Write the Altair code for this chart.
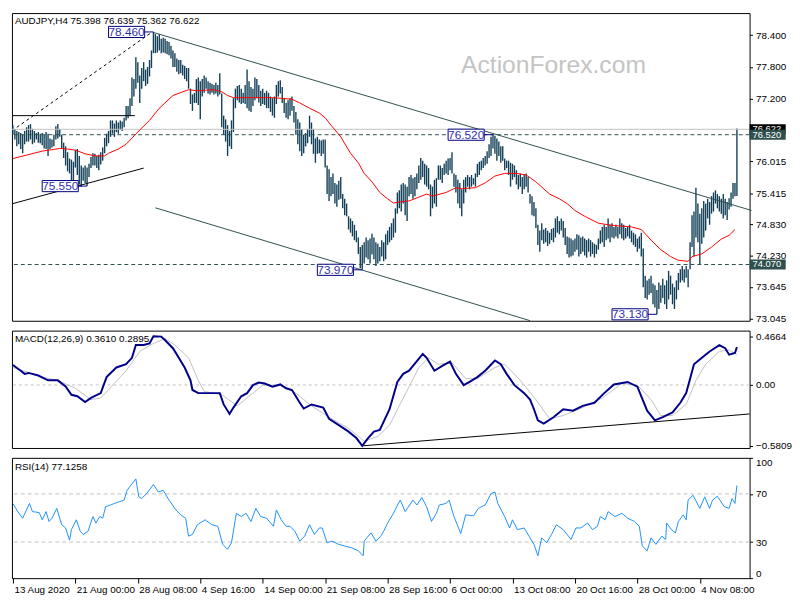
import altair as alt
import pandas as pd

# ---------------- data ----------------
highs = [
    76.70, 76.63, 76.59, 76.57, 76.55, 76.52, 76.59, 76.66, 76.70, 76.72,
    76.63, 76.59, 76.55, 76.57, 76.54, 76.55, 76.52, 76.57, 76.54, 76.45,
    76.43, 76.52, 76.68, 76.72, 76.63, 76.52, 76.37, 76.30, 76.19, 76.07,
    76.05, 76.01, 76.23, 76.25, 76.12, 75.94, 75.90, 75.94, 75.90, 75.97,
    76.10, 76.17, 76.16, 76.12, 76.14, 76.19, 76.28, 76.46, 76.54, 76.59,
    76.79, 76.79, 76.73, 76.79, 76.75, 76.79, 76.77, 76.84, 77.06, 77.06,
    77.21, 77.60, 77.57, 77.98, 77.89, 77.64, 77.78, 77.89, 77.75, 77.80,
    77.93, 78.11, 78.46, 78.42, 78.38, 78.42, 78.33, 78.35, 78.33, 78.29,
    78.27, 78.20, 78.11, 78.06, 77.96, 77.93, 77.93, 77.84, 77.82, 77.78,
    77.78, 77.39, 77.28, 77.31, 77.57, 77.60, 77.53, 77.57, 77.64, 77.60,
    77.53, 77.50, 77.48, 77.46, 77.50, 77.46, 77.68, 77.30, 76.88, 76.81,
    76.70, 76.59, 76.79, 77.21, 77.39, 77.44, 77.46, 77.39, 77.31, 77.46,
    77.75, 77.53, 77.42, 77.39, 77.60, 77.57, 77.46, 77.35, 77.39, 77.31,
    77.35, 77.31, 77.24, 77.21, 77.24, 77.46, 77.53, 77.55, 77.42, 77.21,
    77.12, 77.17, 77.21, 77.24, 77.06, 76.95, 76.81, 76.75, 76.63, 76.52,
    76.55, 76.63, 76.88, 76.75, 76.63, 76.45, 76.48, 76.43, 76.41, 76.43,
    76.43, 75.94, 75.87, 75.72, 75.79, 75.61, 75.58, 75.65, 75.72, 75.40,
    75.31, 75.22, 74.98, 74.94, 74.89, 74.82, 74.71, 74.58, 74.40, 74.44,
    74.49, 74.58, 74.53, 74.56, 74.65, 74.58, 74.49, 74.46, 74.40, 74.53,
    74.49, 74.64, 74.71, 74.78, 74.85, 74.94, 75.13, 75.43, 75.47, 75.58,
    75.61, 75.58, 75.54, 75.72, 75.76, 75.70, 75.72, 75.79, 75.94, 76.08,
    76.03, 75.97, 75.94, 75.89, 75.58, 75.54, 75.67, 75.70, 75.94, 75.94,
    75.89, 75.97, 76.03, 76.07, 76.08, 76.19, 75.79, 75.76, 75.67, 75.61,
    75.49, 75.67, 75.72, 75.76, 75.72, 75.76, 75.70, 75.79, 75.97, 76.01,
    76.03, 76.08, 76.12, 76.21, 76.34, 76.48, 76.52, 76.50, 76.45, 76.39,
    76.30, 76.30, 76.07, 76.03, 76.03, 75.99, 75.97, 75.94, 75.85, 75.76,
    75.79, 75.72, 75.76, 75.79, 75.72, 75.40, 75.36, 75.25, 75.13, 74.82,
    74.71, 74.85, 74.73, 74.76, 74.71, 74.67, 74.74, 74.76, 74.94, 74.98,
    74.89, 74.94, 74.89, 74.76, 74.60, 74.58, 74.56, 74.53, 74.56, 74.64,
    74.62, 74.58, 74.60, 74.56, 74.53, 74.56, 74.53, 74.49, 74.46, 74.44,
    74.56, 74.71, 74.78, 74.82, 74.78, 74.94, 74.82, 74.85, 74.78, 74.82,
    74.78, 74.94, 74.85, 74.82, 74.76, 74.78, 74.82, 74.71, 74.67, 74.64,
    74.56, 74.60, 74.67, 74.37, 73.86, 73.77, 73.80, 73.86, 73.71, 73.68,
    73.59, 73.73, 73.68, 73.80, 73.68, 73.77, 73.95, 73.86, 73.71, 73.64,
    73.77, 73.91, 73.98, 74.04, 73.98, 74.04, 73.98, 74.49, 75.00, 75.07,
    75.52, 75.22, 75.03, 75.13, 75.27, 75.22, 75.31, 75.25, 75.36, 75.43,
    75.47, 75.40, 75.36, 75.31, 75.40, 75.31, 75.25, 75.32, 75.43, 75.61,
    75.61, 76.639,
]
lows = [
    76.52, 76.43, 76.30, 76.34, 76.25, 76.17, 76.34, 76.39, 76.39, 76.43,
    76.34, 76.37, 76.43, 76.37, 76.36, 76.32, 76.26, 76.25, 76.12, 76.25,
    76.28, 76.30, 76.43, 76.45, 76.48, 76.26, 76.08, 75.94, 75.83, 75.79,
    75.65, 75.52, 75.90, 75.76, 75.58, 75.54, 75.65, 75.61, 75.55, 75.72,
    75.89, 75.94, 75.94, 75.89, 75.85, 75.96, 76.03, 76.17, 76.30, 76.36,
    76.48, 76.54, 76.48, 76.57, 76.54, 76.61, 76.59, 76.66, 76.79, 76.83,
    76.88, 77.06, 77.24, 77.39, 77.50, 77.12, 77.39, 77.53, 77.44, 77.48,
    77.62, 77.78, 78.06, 78.06, 78.07, 78.11, 78.06, 78.07, 78.06, 78.04,
    78.02, 77.96, 77.80, 77.80, 77.71, 77.66, 77.68, 77.64, 77.57, 77.53,
    77.39, 77.10, 76.97, 77.12, 77.12, 77.08, 76.81, 77.24, 77.31, 77.39,
    77.30, 77.28, 77.31, 77.28, 77.30, 77.24, 77.28, 76.66, 76.52, 76.39,
    76.12, 76.30, 76.25, 76.57, 77.02, 77.17, 77.13, 77.10, 77.12, 77.10,
    77.02, 76.97, 76.95, 77.06, 77.17, 77.21, 77.13, 77.06, 77.10, 77.08,
    77.02, 77.02, 76.95, 76.88, 76.84, 77.10, 77.24, 77.30, 77.12, 76.93,
    76.84, 76.81, 76.88, 76.97, 76.75, 76.52, 76.34, 76.21, 76.12, 76.17,
    76.30, 76.36, 76.48, 76.34, 76.16, 75.99, 76.16, 76.17, 76.12, 76.16,
    75.90, 75.40, 75.27, 75.36, 75.40, 75.22, 75.16, 75.29, 75.31, 75.13,
    75.00, 74.98, 74.73, 74.67, 74.60, 74.53, 74.49, 74.27, 74.00, 73.97,
    74.09, 74.20, 74.17, 74.09, 74.26, 74.17, 74.04, 74.09, 74.13, 74.22,
    74.13, 74.17, 74.44, 74.49, 74.53, 74.58, 74.67, 75.03, 75.13, 75.07,
    75.22, 75.00, 74.89, 75.36, 75.40, 75.31, 75.36, 75.49, 75.61, 75.67,
    75.72, 75.58, 75.54, 75.49, 74.98, 75.13, 75.22, 75.16, 75.67, 75.67,
    75.61, 75.76, 75.79, 75.76, 75.85, 75.79, 75.54, 75.43, 75.22, 75.13,
    74.98, 75.22, 75.43, 75.54, 75.49, 75.54, 75.58, 75.54, 75.72, 75.76,
    75.85, 75.89, 75.94, 75.97, 76.08, 76.12, 76.26, 76.16, 76.03, 76.12,
    75.99, 76.03, 75.85, 75.89, 75.76, 75.54, 75.67, 75.72, 75.58, 75.49,
    75.54, 75.40, 75.49, 75.54, 75.43, 75.22, 75.00, 74.98, 74.76, 74.44,
    74.31, 74.53, 74.46, 74.49, 74.42, 74.46, 74.53, 74.49, 74.58, 74.67,
    74.64, 74.71, 74.58, 74.44, 74.27, 74.20, 74.22, 74.24, 74.31, 74.35,
    74.22, 74.27, 74.31, 74.24, 74.20, 74.31, 74.22, 74.27, 74.20, 74.27,
    74.35, 74.46, 74.49, 74.40, 74.53, 74.56, 74.49, 74.58, 74.56, 74.60,
    74.56, 74.64, 74.56, 74.53, 74.56, 74.60, 74.56, 74.49, 74.44, 74.40,
    74.31, 74.37, 74.22, 73.64, 73.44, 73.41, 73.50, 73.53, 73.32, 73.26,
    73.13, 73.23, 73.35, 73.44, 73.32, 73.23, 73.41, 73.50, 73.32, 73.23,
    73.41, 73.59, 73.73, 73.77, 73.73, 73.82, 73.64, 73.98, 74.40, 74.22,
    74.58, 74.49, 74.08, 74.46, 74.58, 74.71, 74.94, 74.82, 75.03, 75.07,
    75.22, 75.13, 75.07, 75.03, 74.94, 75.00, 74.91, 75.11, 75.16, 75.31,
    75.36, 75.362,
]

# moving average (red), (bar index, price)
ma_line = [
    (0, 76.07), (15, 76.21), (24, 76.26), (28, 76.25), (32, 76.23), (37, 76.16),
    (42, 76.12), (47, 76.12), (49, 76.17), (54, 76.25), (58, 76.34), (65, 76.61),
    (70, 76.79), (75, 77.02), (82, 77.26), (90, 77.37), (94, 77.35), (103, 77.37),
    (107, 77.33), (110, 77.26), (113, 77.22), (123, 77.22), (133, 77.22),
    (143, 77.19), (147, 77.12), (152, 77.02), (157, 76.93), (160, 76.84),
    (163, 76.70), (168, 76.48), (173, 76.17), (177, 75.99), (180, 75.79),
    (184, 75.63), (188, 75.43), (192, 75.31), (195, 75.23), (198, 75.25),
    (203, 75.27), (208, 75.34), (212, 75.40), (215, 75.36), (222, 75.43),
    (227, 75.52), (230, 75.50), (237, 75.52), (242, 75.61), (247, 75.74),
    (252, 75.79), (258, 75.79), (263, 75.76), (268, 75.63), (275, 75.40),
    (280, 75.31), (284, 75.22), (288, 75.09), (293, 74.98), (300, 74.85),
    (305, 74.82), (310, 74.80), (317, 74.78), (322, 74.73), (327, 74.53),
    (332, 74.35), (337, 74.22), (341, 74.15), (346, 74.13), (348, 74.22),
    (353, 74.27), (358, 74.40), (363, 74.55), (367, 74.62), (370, 74.73),
]

macd_main = [
    (0, 0.191), (4, 0.136), (6, 0.106), (8, 0.115), (13, 0.090), (18, 0.044),
    (23, 0.044), (27, -0.014), (30, -0.094), (33, -0.108), (37, -0.164),
    (40, -0.124), (45, -0.078), (48, 0.075), (53, 0.167), (58, 0.198),
    (61, 0.259), (63, 0.381), (67, 0.381), (70, 0.397), (72, 0.466), (76, 0.462),
    (78, 0.427), (82, 0.351), (85, 0.259), (88, 0.167), (91, 0.044), (92, -0.048),
    (95, -0.078), (98, -0.078), (106, -0.078), (108, -0.186), (111, -0.277),
    (113, -0.216), (117, -0.108), (120, -0.078), (123, -0.002), (126, 0.023),
    (129, 0.014), (133, -0.017), (137, 0.005), (140, -0.032), (143, -0.048),
    (147, -0.170), (149, -0.225), (153, -0.186), (159, -0.216), (162, -0.323),
    (167, -0.384), (172, -0.446), (176, -0.507), (179, -0.581), (182, -0.507),
    (185, -0.446), (188, -0.430), (193, -0.232), (197, 0.029), (200, 0.106),
    (203, 0.136), (207, 0.228), (210, 0.296), (212, 0.259), (216, 0.136),
    (220, 0.182), (224, 0.222), (227, 0.106), (231, -0.002), (234, 0.029),
    (238, 0.075), (242, 0.136), (247, 0.234), (250, 0.198), (253, 0.106),
    (257, -0.002), (262, -0.078), (265, -0.140), (267, -0.232), (269, -0.338),
    (272, -0.369), (277, -0.308), (282, -0.232), (287, -0.246), (292, -0.200),
    (298, -0.170), (303, -0.078), (308, 0.005), (315, 0.029), (320, -0.017),
    (322, -0.108), (325, -0.246), (329, -0.338), (333, -0.308), (338, -0.262),
    (342, -0.170), (345, -0.078), (347, 0.060), (349, 0.198), (354, 0.274),
    (357, 0.320), (362, 0.381), (365, 0.351), (367, 0.289), (370, 0.305),
    (371, 0.361),
]
macd_signal = [
    (0, 0.167), (15, 0.075), (23, 0.044), (32, -0.032), (40, -0.140), (45, -0.124),
    (52, 0.014), (58, 0.136), (65, 0.320), (72, 0.397), (78, 0.443), (83, 0.381),
    (90, 0.259), (95, 0.044), (98, -0.062), (107, -0.094), (115, -0.200),
    (122, -0.094), (128, -0.002), (137, -0.002), (145, -0.078), (153, -0.200),
    (162, -0.308), (172, -0.415), (180, -0.537), (187, -0.492), (193, -0.384),
    (198, -0.198), (203, -0.017), (208, 0.167), (213, 0.259), (218, 0.198),
    (225, 0.213), (232, 0.060), (238, 0.060), (247, 0.167), (252, 0.198),
    (260, 0.044), (268, -0.140), (275, -0.323), (282, -0.292), (292, -0.216),
    (302, -0.124), (312, 0.014), (320, -0.002), (327, -0.140), (332, -0.292),
    (338, -0.292), (345, -0.186), (350, 0.044), (355, 0.198), (362, 0.320),
    (367, 0.335), (371, 0.2895),
]

rsi_line = [
    (0, 62.1), (2.5, 55.3), (5, 49.8), (8.5, 62.1), (10, 55.3), (13.5, 54.5),
    (15, 48.5), (17, 55.3), (18.5, 47.1), (20, 49.8), (22.5, 58.0), (25, 44.4),
    (27, 41.7), (29, 31.6), (30, 40.3), (32.5, 48.5), (34.5, 39.0), (36, 36.3),
    (38.5, 39.0), (41, 51.2), (42.5, 45.8), (44.5, 51.2), (46, 49.8), (47.5, 59.4),
    (50, 60.8), (52, 62.1), (54.5, 63.5), (57, 64.9), (58.5, 73.0), (61, 78.4),
    (63, 82.5), (64.5, 67.6), (66, 66.2), (68.5, 70.3), (72, 77.9), (74.5, 71.6),
    (77, 73.0), (80, 64.9), (83.5, 56.7), (86, 52.6), (88.5, 49.8), (90, 34.9),
    (92, 36.3), (94.5, 44.4), (98.5, 48.5), (102, 44.4), (105, 43.1), (107.5, 28.1),
    (110, 24.0), (112, 29.4), (114.5, 53.9), (117, 51.2), (119.5, 53.9), (122, 47.1),
    (124.5, 58.0), (127, 51.2), (130, 49.8), (133.5, 43.1), (135, 56.7),
    (137.5, 48.5), (140, 43.1), (142, 43.1), (144.5, 39.0), (147, 30.8),
    (149.5, 34.9), (152, 44.4), (154.5, 36.3), (157, 41.7), (158.5, 41.7),
    (161, 29.4), (163.5, 30.8), (167, 28.1), (170, 26.7), (173.5, 25.3),
    (177, 22.7), (179.5, 18.6), (180, 30.8), (183.5, 37.6), (186, 30.8),
    (188.5, 34.9), (190, 39.0), (192, 45.8), (195, 53.9), (197.5, 62.1),
    (198.5, 64.9), (201, 55.3), (205, 64.9), (207, 60.8), (209.5, 67.0),
    (212, 59.4), (214.5, 47.1), (217, 53.9), (218.5, 60.8), (222, 62.1),
    (223.5, 64.9), (226, 51.2), (229.5, 37.1), (232, 52.6), (236, 51.8),
    (238.5, 58.0), (242, 60.8), (245, 70.3), (247, 71.6), (248.5, 62.1),
    (252, 51.2), (254.5, 41.7), (256, 48.5), (258.5, 40.3), (262, 41.7),
    (264.5, 34.9), (267, 28.1), (269, 18.6), (271, 33.5), (273.5, 29.4),
    (276, 36.3), (278.5, 44.4), (282, 40.3), (286, 32.2), (288.5, 41.7),
    (291, 41.7), (294.5, 45.8), (297, 40.3), (299.5, 43.1), (301, 51.2),
    (303.5, 48.5), (305, 55.3), (308.5, 51.2), (312, 53.9), (315, 49.8),
    (318.5, 47.1), (321, 43.1), (322.5, 26.7), (325, 22.7), (327, 33.5),
    (329.5, 28.1), (332.5, 34.9), (334.5, 32.2), (335, 45.8), (337.5, 40.3),
    (339.5, 37.6), (341, 47.1), (343.5, 52.6), (345, 48.5), (346, 64.9),
    (348.5, 68.9), (352, 58.0), (354.5, 67.6), (357, 58.0), (358.5, 64.9),
    (361, 68.1), (364.5, 59.4), (367, 58.0), (368.5, 66.2), (370, 62.1),
    (371, 77.1),
]

price_ticks = [78.4, 77.8, 77.2, 76.015, 75.415, 74.83, 74.23, 73.645, 73.045]
macd_ticks = [0.4664, 0.0, -0.5809]
rsi_ticks = [100, 70, 30, 0]
date_ticks = [0, 32, 64, 96, 128, 160, 192, 224, 256, 288, 320, 352]
date_labels = ["13 Aug 2020", "21 Aug 00:00", "28 Aug 08:00", "4 Sep 16:00",
               "14 Sep 00:00", "21 Sep 08:00", "28 Sep 16:00", "6 Oct 00:00",
               "13 Oct 08:00", "20 Oct 16:00", "28 Oct 00:00", "4 Nov 08:00"]

level_prices = [76.52, 74.07]
level_texts = ["76.520", "74.070"]
bid_price = 76.622
bid_text = "76.622"

# price callouts: text, bar index of the extreme, price
callouts = [("78.460", 72, 78.46), ("75.550", 38, 75.55), ("73.970", 179, 73.97),
            ("76.520", 246, 76.52), ("73.130", 330, 73.13)]

# trend lines: (x1, y1, x2, y2) in bar index / price
lines_black = [(0, 76.88, 62.5, 76.88), (0, 75.22, 67, 75.89)]
lines_dashed = [(2, 76.66, 71, 78.45)]
lines_channel = [(72, 78.45, 378.5, 75.09), (73, 75.14, 265, 73.01)]
macd_trend = [(179.5, -0.581, 377.5, -0.277)]

title_main = "AUDJPY,H4  75.398 76.639 75.362 76.622"
title_macd = "MACD(12,26,9) 0.3610 0.2895"
title_rsi = "RSI(14) 77.1258"

# ---------------- styling ----------------
W = 748
H_MAIN, H_MACD, H_RSI = 312, 119, 122
FONT = "Liberation Sans"
BAR_C = "#123f57"
SLATE = "#2f4f4f"
X_DOM = [-0.5, 377.5]
P_DOM = [73.008, 78.816]
M_DOM = [-0.602, 0.519]

XS = alt.Scale(domain=X_DOM, nice=False, zero=False)
PS = alt.Scale(domain=P_DOM, nice=False, zero=False)
MS = alt.Scale(domain=M_DOM, nice=False, zero=False)
RS = alt.Scale(domain=[0, 100], nice=False, zero=False)

price_axis = alt.Axis(orient="right", values=price_ticks, format=".3f", tickSize=3,
                      labelPadding=3, domain=False, grid=False, title=None)
macd_axis = alt.Axis(orient="right", values=macd_ticks, tickSize=3, labelPadding=3,
                     domain=False, grid=False, title=None,
                     labelExpr="datum.value == 0 ? '0.00' : format(datum.value, '.4f')")
rsi_axis = alt.Axis(orient="right", values=rsi_ticks, tickSize=3, labelPadding=3,
                    domain=False, grid=False, title=None, labelFlush=True, format="d")
label_js = "[" + ",".join("'%s'" % s for s in date_labels) + "]"
date_axis = alt.Axis(values=date_ticks, labelExpr=label_js + "[round(datum.value / 32)]",
                     tickSize=5, labelAlign="left", labelPadding=2, labelOffset=1,
                     domain=False, grid=False, title=None, labelFontSize=10)

AXES = {"P": price_axis, "M": macd_axis, "R": rsi_axis}
SCALES = {"P": PS, "M": MS, "R": RS}


def xenc(field, panel):
    return alt.X(field, scale=XS, axis=date_axis if panel == "R" else None)


def yenc(field, panel):
    return alt.Y(field, scale=SCALES[panel], axis=AXES[panel])


def seg_layer(rows, color, panel, dash=None, width=1.0):
    df = pd.DataFrame(rows, columns=["x1", "y1", "x2", "y2"])
    kw = dict(color=color, strokeWidth=width)
    if dash:
        kw["strokeDash"] = dash
    return alt.Chart(df).mark_rule(**kw).encode(
        x=xenc("x1:Q", panel), x2="x2:Q", y=yenc("y1:Q", panel), y2="y2:Q")


def text_layer(x, y, t, panel, **kw):
    df = pd.DataFrame({"x": [x], "y": [y], "t": [t]})
    return alt.Chart(df).mark_text(**kw).encode(
        x=xenc("x:Q", panel), y=yenc("y:Q", panel), text="t:N")


def hline_layer(vals, panel, **kw):
    df = pd.DataFrame({"v": vals})
    return alt.Chart(df).mark_rule(**kw).encode(y=yenc("v:Q", panel))


def badge_layers(prices, texts, fill, half=0.095):
    df = pd.DataFrame({"p": prices, "t": texts})
    df["p1"] = df["p"] + half
    df["p2"] = df["p"] - half
    df["x1"] = X_DOM[1]
    df["x2"] = X_DOM[1] + 18.5
    r = alt.Chart(df).mark_rect(color=fill).encode(
        x=xenc("x1:Q", "P"), x2="x2:Q", y=yenc("p1:Q", "P"), y2="p2:Q")
    t = alt.Chart(df).mark_text(font=FONT, fontSize=9.5, color="white", align="left",
                                baseline="middle", dx=3).encode(
        x=xenc("x1:Q", "P"), y=yenc("p:Q", "P"), text="t:N")
    return [r, t]


# ---------------- main panel ----------------
bars = pd.DataFrame({"i": list(range(len(highs))), "high": highs, "low": lows})
bar_layer = alt.Chart(bars).mark_rule(color=BAR_C, strokeWidth=1.4).encode(
    x=xenc("i:Q", "P"), y=yenc("low:Q", "P"), y2="high:Q")

ma_df = pd.DataFrame(ma_line, columns=["i", "v"])
ma_layer = alt.Chart(ma_df).mark_line(color="#ff0000", strokeWidth=1).encode(
    x=xenc("i:Q", "P"), y=yenc("v:Q", "P"))

lvl_layer = hline_layer(level_prices, "P", color=SLATE, strokeDash=[4, 3], strokeWidth=1)
bid_layer = hline_layer([bid_price], "P", color="#c0c0c0", strokeWidth=1)

black_layer = seg_layer(lines_black, "#000000", "P")
dashed_layer = seg_layer(lines_dashed, "#000000", "P", dash=[3, 3])
channel_layer = seg_layer(lines_channel, SLATE, "P")

co = pd.DataFrame(callouts, columns=["t", "i", "p"])
co["bx2"] = co["i"] - 4.5
co["bx1"] = co["bx2"] - 18.5
co["tx"] = (co["bx1"] + co["bx2"]) / 2
co["by1"] = co["p"] + 0.105
co["by2"] = co["p"] - 0.105
conn_layer = alt.Chart(co).mark_rule(color="#000080", strokeWidth=1).encode(
    x=xenc("bx2:Q", "P"), x2="i:Q", y=yenc("p:Q", "P"))
box_layer = alt.Chart(co).mark_rect(fill="white", stroke="#000080", strokeWidth=1).encode(
    x=xenc("bx1:Q", "P"), x2="bx2:Q", y=yenc("by1:Q", "P"), y2="by2:Q")
box_text = alt.Chart(co).mark_text(font=FONT, fontSize=12, color="#3030b0",
                                   baseline="middle", align="center").encode(
    x=xenc("tx:Q", "P"), y=yenc("p:Q", "P"), text="t:N")

bid_badge = badge_layers([bid_price], [bid_text], "#000000")
lvl_badges = badge_layers(level_prices, level_texts, SLATE)

wm_layer = text_layer(277, 77.84, "ActionForex.com", "P", font=FONT, fontSize=25,
                      color="#c4c4c4", align="center", baseline="middle")
title_layer = text_layer(X_DOM[0], P_DOM[1], title_main, "P", font=FONT, fontSize=10,
                         color="black", align="left", baseline="top", dx=3, dy=3)

main = alt.layer(
    bar_layer, bid_layer, lvl_layer, wm_layer, black_layer, dashed_layer, channel_layer,
    ma_layer, conn_layer, box_layer, box_text, *bid_badge, *lvl_badges, title_layer,
).properties(width=W, height=H_MAIN)

# ---------------- MACD panel ----------------
mm = pd.DataFrame(macd_main, columns=["i", "v"])
ms = pd.DataFrame(macd_signal, columns=["i", "v"])
main_macd_layer = alt.Chart(mm).mark_line(color="#00008b", strokeWidth=2).encode(
    x=xenc("i:Q", "M"), y=yenc("v:Q", "M"))
zero_layer = hline_layer([0.0], "M", color="#c0c0c0", strokeDash=[3, 3])
sig_layer = alt.Chart(ms).mark_line(color="#c0c0c0", strokeWidth=1).encode(
    x=xenc("i:Q", "M"), y=yenc("v:Q", "M"))
mtrend_layer = seg_layer(macd_trend, "#000000", "M")
mtitle = text_layer(X_DOM[0], M_DOM[1], title_macd, "M", font=FONT, fontSize=10,
                    color="black", align="left", baseline="top", dx=3, dy=4)
macd = alt.layer(zero_layer, sig_layer, main_macd_layer, mtrend_layer, mtitle).properties(
    width=W, height=H_MACD)

# ---------------- RSI panel ----------------
rs = pd.DataFrame(rsi_line, columns=["i", "v"])
rsi_layer = alt.Chart(rs).mark_line(color="#1e90ff", strokeWidth=1).encode(
    x=xenc("i:Q", "R"), y=yenc("v:Q", "R"))
rl = hline_layer([70, 30], "R", color="#c0c0c0", strokeDash=[4, 3])
rtitle = text_layer(X_DOM[0], 100, title_rsi, "R", font=FONT, fontSize=10,
                    color="black", align="left", baseline="top", dx=3, dy=4)
rsi = alt.layer(rl, rsi_layer, rtitle).properties(width=W, height=H_RSI)

chart = alt.vconcat(main, macd, rsi, spacing=5).properties(
    padding={"left": 0, "top": 0, "right": 0, "bottom": 0},
    background="white",
).configure_view(stroke="black", strokeWidth=1).configure_axis(
    labelFont=FONT, labelFontSize=10, labelColor="black", tickColor="black",
)

chart.save("out.html", embed_options={"renderer": "svg", "actions": False})
